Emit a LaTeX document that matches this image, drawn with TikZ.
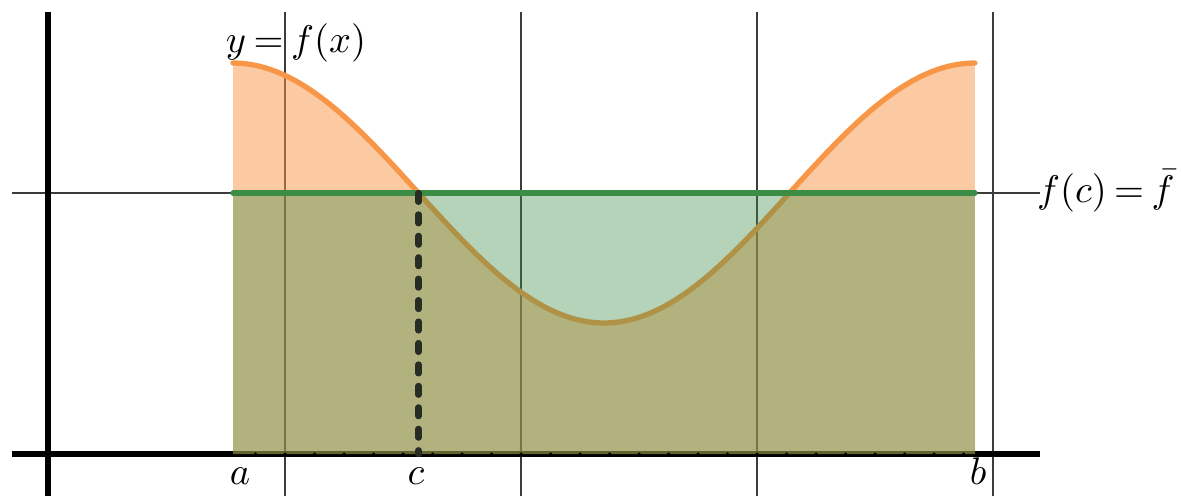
\documentclass[tikz,border=0pt]{standalone}
\usepackage{amsmath}
\usetikzlibrary{arrows.meta}
\definecolor{curveorange}{RGB}{247,150,70}
\definecolor{meangreen}{RGB}{60,140,70}
\definecolor{gridgray}{RGB}{60,60,60}
\definecolor{dashdark}{RGB}{40,45,35}

\begin{document}
\begin{tikzpicture}[
  gridline/.style={gridgray, line width=0.4pt},
  axisline/.style={black, line width=1.5pt},
  lbl/.style={font=\fontsize{11}{13}\selectfont, inner sep=1pt}]
  \useasboundingbox (0,0) rectangle (11.81,4.96);
  \thickmuskip=3.5mu
  \coordinate (A) at (2.33,0.42);
  \coordinate (C) at (4.185,0.42);
  \coordinate (B) at (9.75,0.42);
  \coordinate (FA) at (2.33,3.03);
  \coordinate (FC) at (4.185,3.03);
  \coordinate (FB) at (9.75,3.03);
  % grid and axes
  \foreach \x in {2.85,5.21,7.57,9.93}
    \draw[gridline] (\x,0) -- (\x,4.84);
  \draw[gridline] (0.12,3.03) -- (10.40,3.03);
  \draw[axisline] (0.48,0) -- (0.48,4.84);
  \draw[axisline] (0.12,0.42) -- (10.40,0.42);
  % area under y = f(x)
  \fill[curveorange, opacity=0.5] (A) -- plot[domain=2.33:9.75, samples=120]
    (\x,{3.03+1.3*cos(360*(\x-2.33)/7.42)}) -- (B) -- cycle;
  \draw[curveorange, line width=1.5pt, line cap=round] plot[domain=2.33:9.75, samples=120]
    (\x,{3.03+1.3*cos(360*(\x-2.33)/7.42)});
  % mean value rectangle
  \fill[meangreen, opacity=0.38] (A) rectangle (FB);
  \draw[meangreen, line width=1.5pt, line cap=round] (FA) -- (FB);
  \draw[dashdark, line width=1.8pt, line cap=round, dash pattern=on 2.5pt off 3.6pt] (FC) -- (C);
  \foreach \k in {-1,...,23}
    \fill (2.85+0.295*\k,0.42) circle (0.5pt);
  % labels
  \node[lbl] (curvelbl) at (2.96,4.53) {$y=f(x)$};
  \node[lbl, anchor=base west] (meanlbl) at (10.33,2.94) {$f(c)=\bar{f}$};
  \node[lbl, anchor=base] (albl) at (2.40,0.12) {$a$};
  \node[lbl, anchor=base] (clbl) at (4.16,0.12) {$c$};
  \node[lbl, anchor=base] (blbl) at (9.78,0.12) {$b$};
\end{tikzpicture}
\end{document}
